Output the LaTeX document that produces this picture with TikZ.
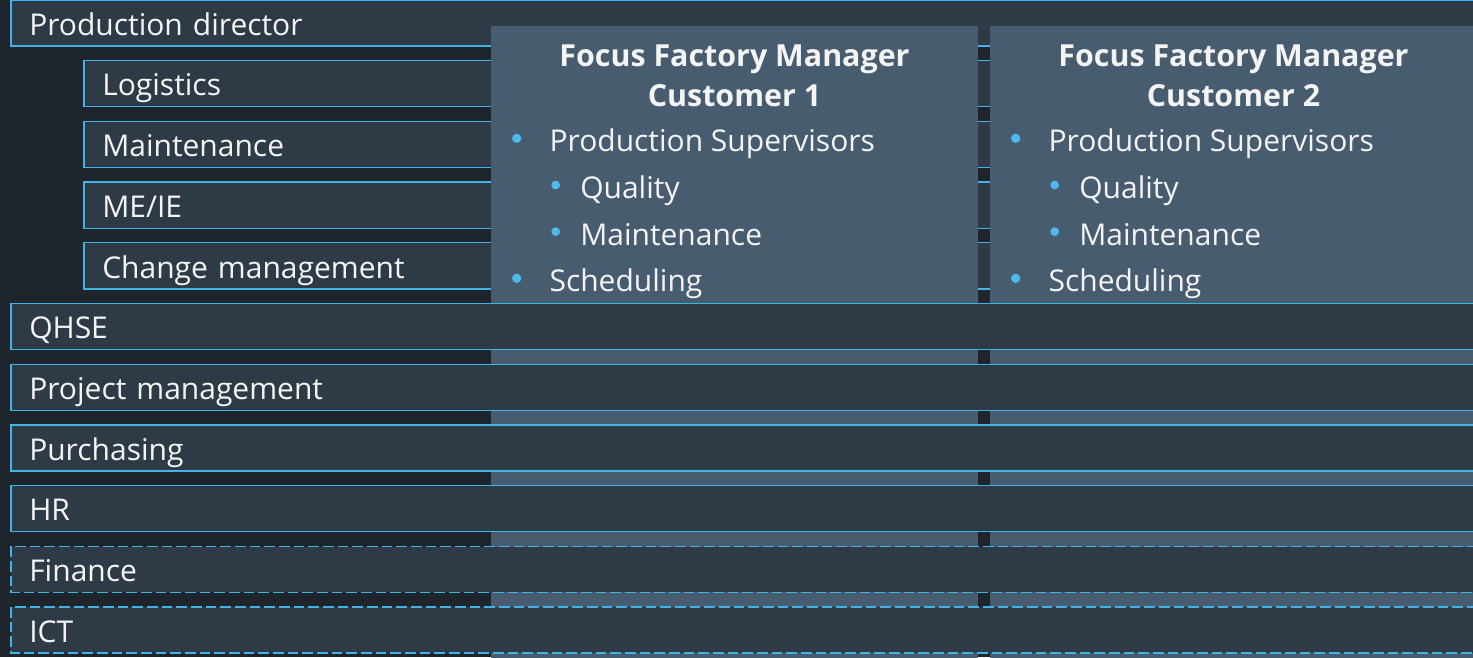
\documentclass[tikz,border=0pt]{standalone}
\usepackage{fontspec}
\setmainfont{Open Sans}
\definecolor{bg}{HTML}{1E252D}
\definecolor{barfill}{HTML}{2E3B47}
\definecolor{colfill}{HTML}{485C70}
\definecolor{bord}{HTML}{40B4E5}
\definecolor{dot}{HTML}{4DB9E8}
\definecolor{txt}{HTML}{F4F4F4}
\tikzset{
  barbase/.style={fill=barfill, draw=none, anchor=north west,
    inner xsep=13.5pt, inner ysep=0pt, text height=26.25pt, text depth=7.9pt,
    align=left, font=\fontsize{22.5}{26}\selectfont, text=txt},
  mainbar/.style={barbase, text width=1082pt},
  subbar/.style={barbase, text width=1027pt},
  solidedge/.style={draw=bord, line width=1pt},
  dashedge/.style={draw=bord, line width=1pt, dash pattern=on 8pt off 3pt},
  colbox/.style={fill=colfill, draw=none, anchor=north west, inner sep=0pt,
    minimum width=365.25pt, minimum height=500pt},
  ttl/.style={anchor=base, font=\fontsize{22.8}{26}\selectfont\bfseries, text=txt, inner sep=0pt},
  item/.style={anchor=base west, font=\fontsize{22.5}{26}\selectfont, text=txt, inner sep=0pt},
  bul/.style={fill=dot}
}
\begin{document}
\begin{tikzpicture}[x=0.75pt,y=-0.75pt]
\useasboundingbox (0,0) rectangle (1473,657);
\clip (0,0) rectangle (1473,657);
\fill[bg] (0,0) rectangle (1473,657);
% upper bars
\node[mainbar] (pd)  at (11,0)     {Production director};
\node[subbar]  (log) at (84,60.7)  {Logistics};
\node[subbar]  (mnt) at (84,121.4) {Maintenance};
\node[subbar]  (me)  at (84,182.1) {ME/IE};
\node[subbar]  (chg) at (84,242.8) {Change management};
\foreach \b in {pd,log,mnt,me,chg}
  \draw[solidedge] (\b.north west) rectangle (\b.south east);
% focus factory columns
\node[colbox] (c1) at (491,26) {};
\node[colbox] (c2) at (990,26) {};
\foreach \ox/\n in {0/1, 499/2} {
  \node[ttl] (t\n a) at (734.5+\ox,66.7) {Focus Factory Manager};
  \node[ttl] (t\n b) at (734.5+\ox,106) {Customer \n};
  \fill[bul] (516.7+\ox,138.3) circle[radius=3.5pt];
  \node[item] (ps\n) at (549.3+\ox,151.7) {Production Supervisors};
  \fill[bul] (555.7+\ox,185) circle[radius=3.3pt];
  \node[item] (q\n) at (580+\ox,198.3) {Quality};
  \fill[bul] (555.7+\ox,231.6) circle[radius=3.3pt];
  \node[item] (m\n) at (580+\ox,245) {Maintenance};
  \fill[bul] (516.7+\ox,278.3) circle[radius=3.5pt];
  \node[item] (s\n) at (549.3+\ox,291.7) {Scheduling};
}
% lower bars
\node[mainbar] (qhse) at (11,303.5) {QHSE};
\node[mainbar] (pm)   at (11,364.2) {Project management};
\node[mainbar] (pur)  at (11,424.9) {Purchasing};
\node[mainbar] (hr)   at (11,485.6) {HR};
\node[mainbar] (fin)  at (11,546.3) {Finance};
\node[mainbar] (ict)  at (11,607)   {ICT};
\foreach \b in {qhse,pm,pur,hr}
  \draw[solidedge] (\b.north west) rectangle (\b.south east);
\foreach \b in {fin,ict}
  \draw[dashedge] (\b.north west) rectangle (\b.south east);
\end{tikzpicture}
\end{document}
